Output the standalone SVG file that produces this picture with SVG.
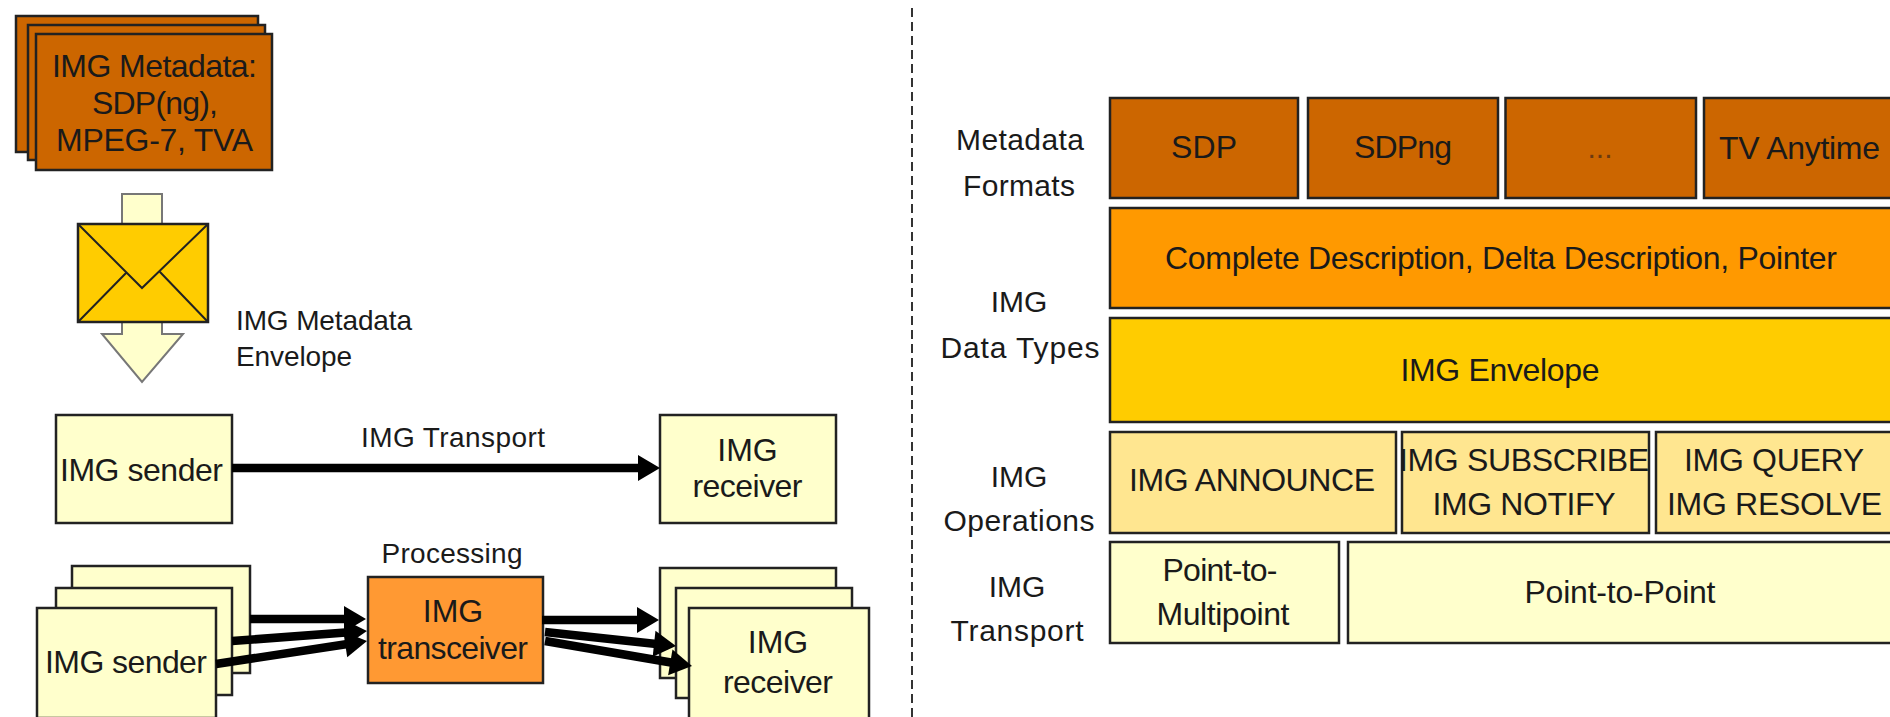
<svg xmlns="http://www.w3.org/2000/svg" width="1890" height="717" viewBox="0 0 1890 717">
<style>
text{font-family:"Liberation Sans",Arial,sans-serif;font-size:32px;fill:#1a1a1a;text-anchor:middle}
.s{font-size:28px}
.r{font-size:30px}
.dots{font-size:30px;fill:#6b3a10}
.b{stroke:#222;stroke-width:2.5}
.rust{fill:#C60}.amber{fill:#F90}.gold{fill:#FC0}.sand{fill:#FFE690}.cream{fill:#FFC}.tangerine{fill:#F93}
.conn{fill:none;stroke:#000;stroke-width:8.5;marker-end:url(#ah)}
.env{fill:none;stroke:#222;stroke-width:2}
</style>
<defs>
<marker id="ah" markerUnits="userSpaceOnUse" markerWidth="24" markerHeight="28" refX="14" refY="14" orient="auto" overflow="visible"><path d="M0 1 L22 14 L0 27 Z" fill="#000"/></marker>
</defs>
<rect width="1890" height="717" fill="#fff"/>
<line id="divider" x1="912" y1="8" x2="912" y2="717" stroke="#333" stroke-width="2" stroke-dasharray="9 5"/>

<g id="metadata-stack">
<rect class="b rust" x="16" y="16" width="242" height="136"/>
<rect class="b rust" x="28" y="25" width="237" height="135"/>
<rect class="b rust" x="36" y="34" width="236" height="136"/>
<text x="154.500" y="77" textLength="205">IMG Metadata:</text>
<text x="155" y="114" textLength="126">SDP(ng),</text>
<text x="154.500" y="151" textLength="197">MPEG-7, TVA</text>
</g>
<g id="envelope-arrow">
<path d="M122 194H162V334H183L142 382L102 334H122Z" fill="#FFC" stroke="#777" stroke-width="2"/>
</g>
<g id="envelope">
<rect x="78" y="224" width="130" height="98" class="gold" stroke="#222" stroke-width="2.500"/>
<path class="env" d="M78 224L142 288L208 224M78 322L127 272M208 322L160 272"/>
<text class="s" x="324" y="330" textLength="176">IMG Metadata</text>
<text class="s" x="294" y="366" textLength="116">Envelope</text>
</g>

<g id="sender-1">
<rect class="b cream" x="56" y="415" width="176" height="108"/>
<text x="141.500" y="481" textLength="163">IMG sender</text>
</g>
<g id="receiver-1">
<rect class="b cream" x="660" y="415" width="176" height="108"/>
<text x="747.500" y="461">IMG</text>
<text x="747.500" y="497" textLength="110">receiver</text>
</g>
<text class="s" x="453" y="447" textLength="184">IMG Transport</text>

<g id="sender-stack">
<rect class="b cream" x="72" y="566" width="178" height="107"/>
<rect class="b cream" x="56" y="588" width="176" height="107"/>
<rect class="b cream" x="37" y="608" width="179" height="110"/>
<text x="126" y="673" textLength="162">IMG sender</text>
</g>
<g id="transceiver">
<rect class="b tangerine" x="368" y="577" width="175" height="106"/>
<text x="453" y="622">IMG</text>
<text x="453" y="659" textLength="150">transceiver</text>
</g>
<text class="s" x="452" y="563" textLength="141">Processing</text>
<g id="receiver-stack">
<rect class="b cream" x="660" y="568" width="176" height="110"/>
<rect class="b cream" x="676" y="588" width="176" height="110"/>
<rect class="b cream" x="689" y="608" width="180" height="112"/>
<text x="778" y="653">IMG</text>
<text x="778" y="693" textLength="110">receiver</text>
</g>
<g id="connectors">
<path class="conn" d="M232 468H652"/>
<path class="conn" d="M250 619H358"/>
<path class="conn" d="M232 641L359 631.600"/>
<path class="conn" d="M216 664L359.100 642.200"/>
<path class="conn" d="M542 620H651"/>
<path class="conn" d="M545 632L668 645.200"/>
<path class="conn" d="M545 641L684.100 664.700"/>
</g>

<g id="row-labels">
<text class="r" x="1020" y="150" textLength="128">Metadata</text>
<text class="r" x="1019" y="196" textLength="112">Formats</text>
<text class="r" x="1019" y="312">IMG</text>
<text class="r" x="1020" y="358" textLength="159">Data Types</text>
<text class="r" x="1019" y="487">IMG</text>
<text class="r" x="1019" y="531" textLength="151">Operations</text>
<text class="r" x="1017" y="597">IMG</text>
<text class="r" x="1017" y="641" textLength="133">Transport</text>
</g>
<g id="fmt-sdp"><rect class="b rust" x="1110" y="98" width="188" height="100"/><text x="1204" y="158" textLength="66">SDP</text></g>
<g id="fmt-sdpng"><rect class="b rust" x="1308" y="98" width="190" height="100"/><text x="1403" y="158" textLength="98">SDPng</text></g>
<g id="fmt-more"><rect class="b rust" x="1505.500" y="98" width="190.500" height="100"/><text class="dots" x="1600" y="158">...</text></g>
<g id="fmt-tva"><rect class="b rust" x="1704" y="98" width="200" height="100"/><text x="1799.500" y="159" textLength="161">TV Anytime</text></g>
<g id="data-types"><rect class="b amber" x="1110" y="208" width="794" height="100"/><text x="1501" y="269" textLength="672">Complete Description, Delta Description, Pointer</text></g>
<g id="img-envelope"><rect class="b gold" x="1110" y="318" width="794" height="104"/><text x="1500" y="381" textLength="199">IMG Envelope</text></g>
<g id="op-announce"><rect class="b sand" x="1110" y="432" width="286" height="101"/><text x="1252" y="491" textLength="246">IMG ANNOUNCE</text></g>
<g id="op-subscribe"><rect class="b sand" x="1402" y="432" width="247" height="101"/><text x="1524" y="471" textLength="250">IMG SUBSCRIBE</text><text x="1524" y="515" textLength="183">IMG NOTIFY</text></g>
<g id="op-query"><rect class="b sand" x="1656" y="432" width="250" height="101"/><text x="1774" y="471" textLength="180">IMG QUERY</text><text x="1774.500" y="515" textLength="215">IMG RESOLVE</text></g>
<g id="tr-multipoint"><rect class="b cream" x="1110" y="542" width="229" height="101"/><text x="1220" y="581" textLength="115">Point-to-</text><text x="1223" y="625" textLength="133">Multipoint</text></g>
<g id="tr-point"><rect class="b cream" x="1348" y="542" width="556" height="101"/><text x="1620" y="603" textLength="191">Point-to-Point</text></g>
</svg>
